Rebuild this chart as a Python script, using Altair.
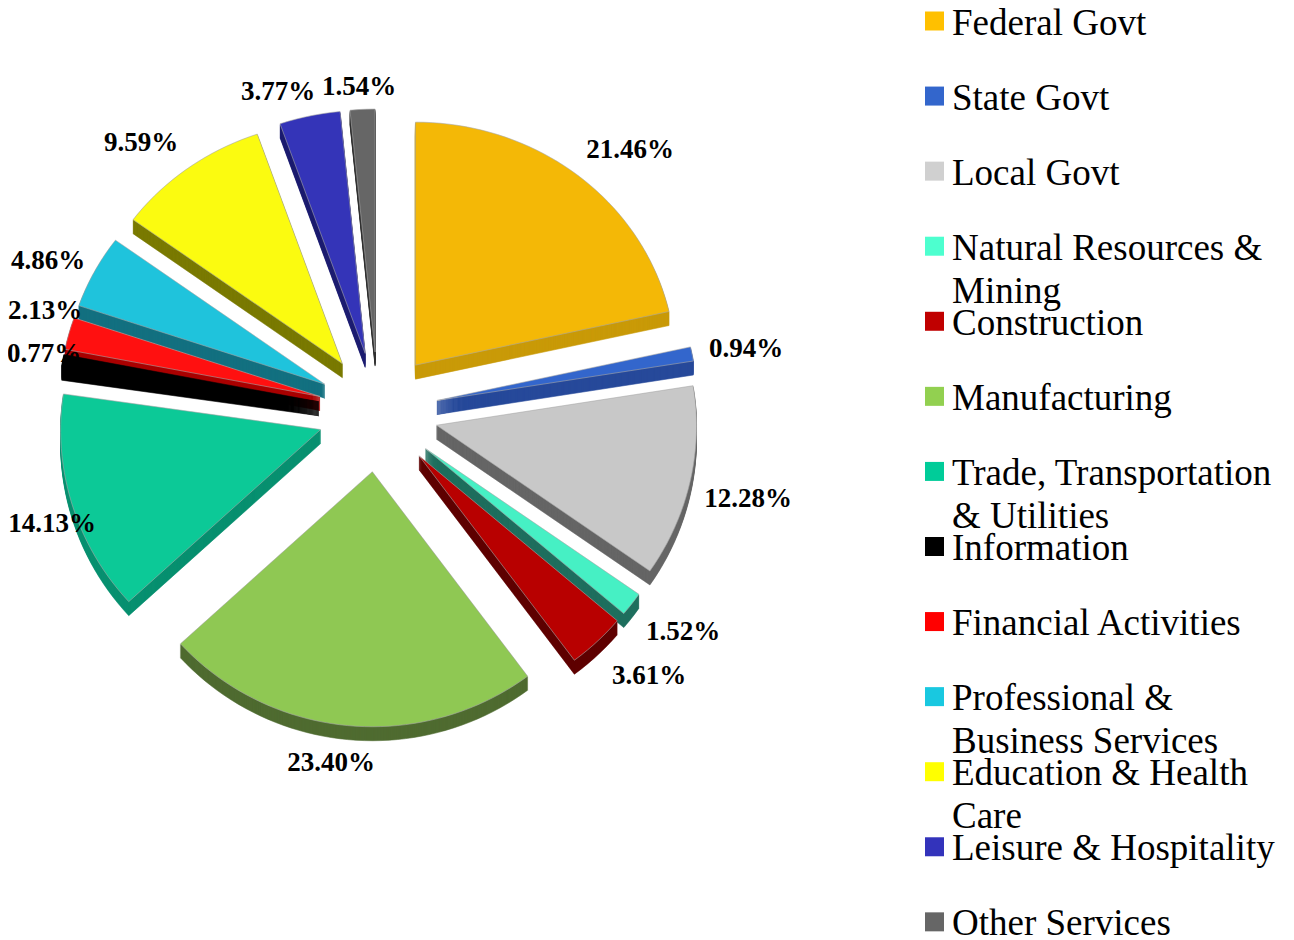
import math
import altair as alt
import pandas as pd

sectors = ["Federal Govt", "State Govt", "Local Govt", "Natural Resources & Mining", "Construction",
           "Manufacturing", "Trade, Transportation & Utilities", "Information", "Financial Activities",
           "Professional & Business Services", "Education & Health Care", "Leisure & Hospitality", "Other Services"]
shares = [21.46, 0.94, 12.28, 1.52, 3.61, 23.40, 14.13, 0.77, 2.13, 4.86, 9.59, 3.77, 1.54]
legend_lines = ["Federal Govt", "State Govt", "Local Govt", "Natural Resources &|Mining", "Construction",
                "Manufacturing", "Trade, Transportation|& Utilities", "Information", "Financial Activities",
                "Professional &|Business Services", "Education & Health|Care", "Leisure & Hospitality", "Other Services"]
top_colors = ["#F4B806", "#3366CC", "#C8C8C8", "#46F0C4", "#B80000", "#8FC853", "#0CC997",
              "#000000", "#FF1010", "#1FC3DC", "#FBFB10", "#3434B8", "#666666"]
side_colors = ["#C99A08", "#27499A", "#666666", "#1F6F5E", "#5F0000", "#4F6B30", "#089070",
               "#000000", "#AA0000", "#137080", "#7A7A00", "#1D1D70", "#333333"]
key_colors = ["#FFC000", "#3366CC", "#D0D0D0", "#4DFFCF", "#C00000", "#92D050", "#00CC99",
              "#000000", "#FF0000", "#19C8E0", "#FFFF00", "#3333BB", "#666666"]

# layout
W, H = 1278, 932
CX, CY, EXPLODE, DEPTH = 378, 412, 60, 14
RX, RY_TOP, RY_BOTTOM = 260, 243, 255
LABEL_AT = [(630, 150), (746, 349), (748, 499), (683, 632), (649, 676), (331, 763), (52, 524),
            (44, 354), (45, 311), (48, 261), (141, 143), (278, 92), (359, 87)]
KEY_Y0, KEY_STEP, KEY_TEXT_DY = 21, 75.07, 2.5


def wedge(ax, ay, t0, t1):
    n = max(3, int((t1 - t0) * 200))
    pts = [[ax, ay]]
    for k in range(n + 1):
        t = (t0 + (t1 - t0) * k / n) * 2 * math.pi
        ry = RY_TOP if math.cos(t) > 0 else RY_BOTTOM
        pts.append([ax + RX * math.sin(t), ay - ry * math.cos(t)])
    pts.append([ax, ay])
    return pts


total = sum(shares)
labels, key, slices, features = [], [], [], []
start = 0.0
for i, s in enumerate(shares):
    end = start + s / total
    mid = (start + end) / 2 * 2 * math.pi
    slices.append(dict(i=i, start=start, end=end,
                       x=CX + EXPLODE * math.sin(mid), y=CY - EXPLODE * math.cos(mid),
                       rank=abs(mid - math.pi)))
    labels.append(dict(x=LABEL_AT[i][0], y=LABEL_AT[i][1], text=f"{s:.2f}%"))
    key.append(dict(x=934.5, tx=952, y=KEY_Y0 + i * KEY_STEP, ty=KEY_Y0 + KEY_TEXT_DY + i * KEY_STEP,
                    text=legend_lines[i], color=key_colors[i]))
    start = end

# far slices first, near slices painted over them
for sl in sorted(slices, key=lambda d: -d["rank"]):
    i = sl["i"]
    for d in list(range(DEPTH, 0, -1)) + [0]:
        side = d > 0
        features.append({
            "type": "Feature",
            "geometry": {"type": "Polygon",
                         "coordinates": [wedge(sl["x"], sl["y"] + d, sl["start"], sl["end"])]},
            "properties": {"fill": side_colors[i] if side else top_colors[i],
                           "line": side_colors[i] if side or i == 7 else "#A8A8A8",
                           "sector": sectors[i]},
        })

xs = alt.Scale(domain=[8, 8 + W], range=[0, W])
ys = alt.Scale(domain=[8, 8 + H], range=[0, H])
X = lambda f: alt.X(f, type="quantitative", scale=xs, axis=None)
Y = lambda f: alt.Y(f, type="quantitative", scale=ys, axis=None)

pie = alt.Chart(alt.Data(values=features)).mark_geoshape(strokeWidth=0.6).encode(
    fill=alt.Fill("properties.fill:N", scale=None),
    stroke=alt.Stroke("properties.line:N", scale=None),
).project(type="identity", scale=1, translate=[-8, -8])
pct = alt.Chart(pd.DataFrame(labels)).mark_text(
    font="Liberation Serif", fontWeight="bold", fontSize=27, color="black", align="center", baseline="middle"
).encode(x=X("x"), y=Y("y"), text="text:N")
squares = alt.Chart(pd.DataFrame(key)).mark_square(size=361, opacity=1, filled=True).encode(
    x=X("x"), y=Y("y"), color=alt.Color("color:N", scale=None))
names = alt.Chart(pd.DataFrame(key)).mark_text(
    font="Liberation Serif", fontSize=37, color="black", align="left", baseline="middle",
    lineBreak="|", lineHeight=43
).encode(x=X("tx"), y=Y("ty"), text="text:N")

chart = alt.layer(pie, pct, squares, names).properties(
    width=W, height=H, padding=0, autosize=alt.AutoSizeParams(type="none")
).configure_view(stroke=None)
chart.save("out.html", embed_options={"renderer": "svg", "actions": False})
